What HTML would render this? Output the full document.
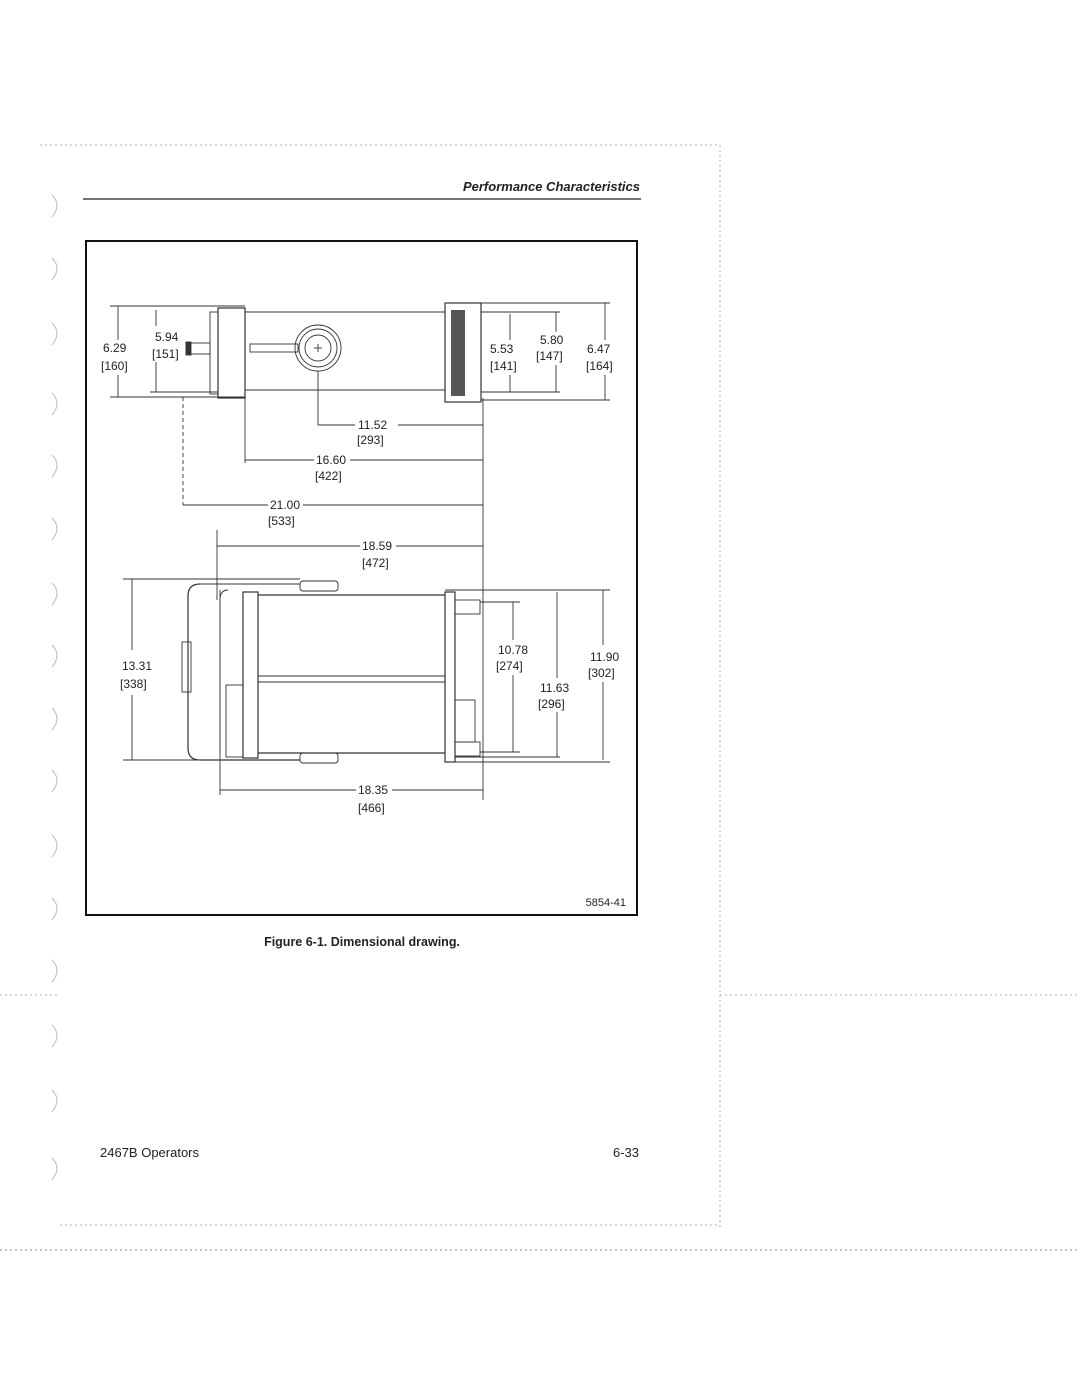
<!DOCTYPE html>
<html><head><meta charset="utf-8"><style>
html,body{margin:0;padding:0;background:#fff;}
svg{display:block;}
text{font-family:"Liberation Sans",sans-serif;fill:#222;}
.d{font-size:12px;fill:#333;}
</style></head><body>
<svg width="1080" height="1397" viewBox="0 0 1080 1397" xmlns="http://www.w3.org/2000/svg">
<g stroke="#999" stroke-width="0.8" stroke-dasharray="2,3" fill="none">
<line x1="40" y1="145" x2="720" y2="145"/>
<line x1="720" y1="145" x2="720" y2="1228"/>
<line x1="60" y1="1225" x2="720" y2="1225"/>
<line x1="720" y1="995" x2="1080" y2="995"/>
<line x1="0" y1="995" x2="60" y2="995"/>
<line x1="0" y1="1250" x2="1080" y2="1250" stroke="#666"/>
</g>
<g stroke="#bbb" stroke-width="1" fill="none">
<path d="M52 195 q10 10 0 22"/><path d="M52 258 q10 10 0 22"/><path d="M52 323 q10 10 0 22"/>
<path d="M52 393 q10 10 0 22"/><path d="M52 455 q10 10 0 22"/><path d="M52 518 q10 10 0 22"/>
<path d="M52 583 q10 10 0 22"/><path d="M52 645 q10 10 0 22"/><path d="M52 708 q10 10 0 22"/>
<path d="M52 770 q10 10 0 22"/><path d="M52 835 q10 10 0 22"/><path d="M52 898 q10 10 0 22"/>
<path d="M52 960 q10 10 0 22"/><path d="M52 1025 q10 10 0 22"/><path d="M52 1090 q10 10 0 22"/>
<path d="M52 1158 q10 10 0 22"/>
</g>
<text x="640" y="191" text-anchor="end" font-size="13" font-style="italic" font-weight="bold">Performance Characteristics</text>
<line x1="83" y1="199" x2="641" y2="199" stroke="#222" stroke-width="1.3"/>
<rect x="86" y="241" width="551" height="674" fill="none" stroke="#111" stroke-width="2"/>
<text x="626" y="906" text-anchor="end" font-size="11">5854-41</text>
<text x="362" y="946" text-anchor="middle" font-size="12.5" font-weight="bold">Figure 6-1. Dimensional drawing.</text>
<text x="100" y="1157" font-size="13">2467B Operators</text>
<text x="639" y="1157" text-anchor="end" font-size="13">6-33</text>

<g stroke="#333" stroke-width="0.9" fill="none">
<!-- top drawing -->
<line x1="110" y1="306" x2="245" y2="306"/><line x1="110" y1="397" x2="245" y2="397"/>
<line x1="118" y1="306" x2="118" y2="340"/><line x1="118" y1="375" x2="118" y2="397"/>
<line x1="156" y1="310" x2="156" y2="326"/><line x1="156" y1="362" x2="156" y2="392"/>
<line x1="150" y1="392" x2="218" y2="392"/>
<rect x="218" y="308" width="27" height="90" stroke-width="1.2"/>
<rect x="210" y="312" width="8" height="82"/>
<line x1="245" y1="312" x2="445" y2="312"/><line x1="245" y1="390" x2="445" y2="390"/>
<rect x="186" y="343" width="24" height="11"/><rect x="186" y="342" width="5" height="13" fill="#333"/>
<rect x="250" y="344" width="48" height="8"/>
<circle cx="318" cy="348" r="23"/><circle cx="318" cy="348" r="19"/><circle cx="318" cy="348" r="13"/>
<line x1="314" y1="348" x2="322" y2="348"/><line x1="318" y1="344" x2="318" y2="352"/>
<rect x="445" y="303" width="36" height="99" stroke-width="1.2"/>
<rect x="451" y="310" width="14" height="86" fill="#555" stroke="none"/>
<line x1="481" y1="303" x2="610" y2="303"/><line x1="481" y1="400" x2="610" y2="400"/>
<line x1="481" y1="312" x2="560" y2="312"/><line x1="481" y1="392" x2="560" y2="392"/>
<line x1="510" y1="314" x2="510" y2="340"/><line x1="510" y1="375" x2="510" y2="392"/>
<line x1="556" y1="312" x2="556" y2="332"/><line x1="556" y1="365" x2="556" y2="392"/>
<line x1="605" y1="303" x2="605" y2="340"/><line x1="605" y1="375" x2="605" y2="400"/>
<!-- horizontal dims -->
<line x1="318" y1="371" x2="318" y2="425"/><line x1="318" y1="425" x2="355" y2="425"/><line x1="398" y1="425" x2="483" y2="425"/>
<line x1="245" y1="398" x2="245" y2="463"/><line x1="245" y1="460" x2="314" y2="460"/><line x1="350" y1="460" x2="483" y2="460"/>
<line x1="183" y1="397" x2="183" y2="505" stroke-dasharray="4,3"/><line x1="183" y1="505" x2="268" y2="505"/><line x1="303" y1="505" x2="483" y2="505"/>
<line x1="217" y1="530" x2="217" y2="600"/><line x1="217" y1="546" x2="360" y2="546"/><line x1="396" y1="546" x2="483" y2="546"/>
<line x1="483" y1="398" x2="483" y2="800"/>
<!-- bottom drawing -->
<line x1="123" y1="579" x2="300" y2="579"/><line x1="123" y1="760" x2="200" y2="760"/>
<line x1="132" y1="579" x2="132" y2="650"/><line x1="132" y1="695" x2="132" y2="760"/>
<path d="M200 584 Q188 584 188 596 L188 748 Q188 760 200 760 L300 760" stroke-width="1.2"/>
<path d="M200 584 L300 584"/>
<rect x="182" y="642" width="9" height="50"/>
<rect x="300" y="581" width="38" height="10" rx="3"/><rect x="300" y="753" width="38" height="10" rx="3"/>
<path d="M228 590 Q220 590 220 600 L220 752"/>
<rect x="243" y="592" width="15" height="166" stroke-width="1.2"/>
<rect x="226" y="685" width="17" height="72"/>
<line x1="258" y1="595" x2="445" y2="595" stroke-width="1.2"/><line x1="258" y1="753" x2="445" y2="753" stroke-width="1.2"/>
<line x1="258" y1="676" x2="445" y2="676"/><line x1="258" y1="682" x2="445" y2="682"/>
<rect x="445" y="592" width="10" height="170" stroke-width="1.2"/>
<rect x="455" y="600" width="25" height="14"/><rect x="455" y="742" width="25" height="14"/>
<rect x="455" y="700" width="20" height="42"/>
<line x1="455" y1="614" x2="455" y2="700"/>
<line x1="445" y1="590" x2="610" y2="590"/><line x1="455" y1="762" x2="610" y2="762"/>
<line x1="480" y1="602" x2="520" y2="602"/><line x1="480" y1="752" x2="520" y2="752"/>
<line x1="455" y1="757" x2="560" y2="757"/>
<line x1="513" y1="602" x2="513" y2="640"/><line x1="513" y1="675" x2="513" y2="752"/>
<line x1="557" y1="592" x2="557" y2="678"/><line x1="557" y1="712" x2="557" y2="757"/>
<line x1="603" y1="590" x2="603" y2="645"/><line x1="603" y1="682" x2="603" y2="760"/>
<line x1="220" y1="590" x2="220" y2="795"/><line x1="220" y1="790" x2="356" y2="790"/><line x1="392" y1="790" x2="483" y2="790"/>
</g>
<g class="d">
<text x="103" y="352">6.29</text><text x="101" y="370">[160]</text>
<text x="155" y="341">5.94</text><text x="152" y="358">[151]</text>
<text x="490" y="353">5.53</text><text x="490" y="370">[141]</text>
<text x="540" y="344">5.80</text><text x="536" y="360">[147]</text>
<text x="587" y="353">6.47</text><text x="586" y="370">[164]</text>
<text x="358" y="429">11.52</text><text x="357" y="444">[293]</text>
<text x="316" y="464">16.60</text><text x="315" y="480">[422]</text>
<text x="270" y="509">21.00</text><text x="268" y="525">[533]</text>
<text x="362" y="550">18.59</text><text x="362" y="567">[472]</text>
<text x="122" y="670">13.31</text><text x="120" y="688">[338]</text>
<text x="498" y="654">10.78</text><text x="496" y="670">[274]</text>
<text x="590" y="661">11.90</text><text x="588" y="677">[302]</text>
<text x="540" y="692">11.63</text><text x="538" y="708">[296]</text>
<text x="358" y="794">18.35</text><text x="358" y="812">[466]</text>
</g>
</svg>
</body></html>
